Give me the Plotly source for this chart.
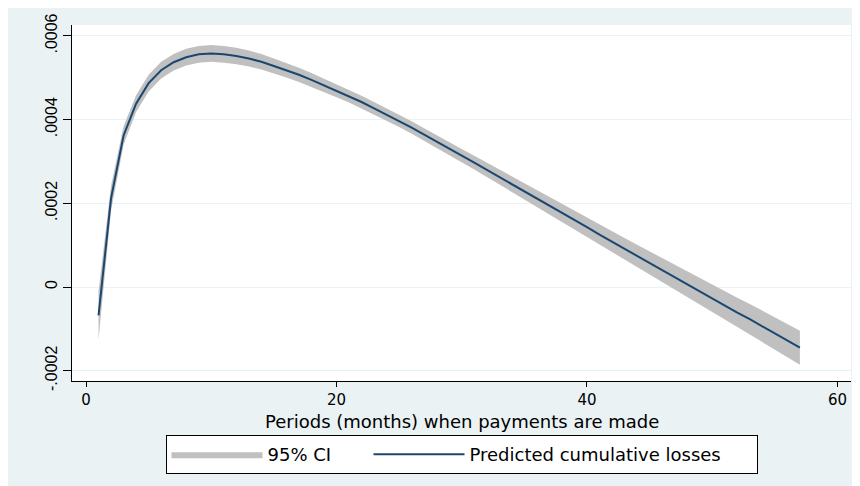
import plotly.graph_objects as go

# ---- data ----
periods = [1, 2, 3, 4, 5, 6, 7, 8, 9, 10, 11, 12, 13, 14, 15, 16, 17, 18, 19, 20,
           21, 22, 23, 24, 25, 26, 27, 28, 29, 30, 31, 32, 33, 34, 35, 36, 37, 38, 39, 40,
           41, 42, 43, 44, 45, 46, 47, 48, 49, 50, 51, 52, 53, 54, 55, 56, 57]

predicted = [-68e-6, 212e-6, 362e-6, 438e-6, 487e-6, 518e-6, 537e-6, 549e-6, 556e-6, 558e-6,
             556e-6, 552e-6, 546e-6, 538e-6, 528e-6, 518e-6, 507e-6, 495e-6, 482e-6, 469e-6,
             456e-6, 442e-6, 427e-6, 412e-6, 397e-6, 381e-6, 364e-6, 348e-6, 331e-6, 314e-6,
             297e-6, 280e-6, 263e-6, 246e-6, 229e-6, 211e-6, 194e-6, 177e-6, 160e-6, 143e-6,
             125e-6, 108e-6, 91e-6, 74e-6, 57e-6, 40e-6, 23e-6, 7e-6, -10e-6, -27e-6,
             -44e-6, -61e-6, -77e-6, -94e-6, -111e-6, -128e-6, -145e-6]

ci_lower = [-126e-6, 182e-6, 340e-6, 418e-6, 467e-6, 498e-6, 517e-6, 529e-6, 536e-6, 538e-6,
            536e-6, 532.5e-6, 527e-6, 519.5e-6, 510e-6, 500.5e-6, 490e-6, 478.5e-6, 466e-6, 453.4e-6,
            440.7e-6, 427e-6, 412e-6, 397e-6, 382e-6, 366e-6, 348.9e-6, 332.7e-6, 315.4e-6, 298e-6,
            280.5e-6, 263e-6, 245.4e-6, 227.7e-6, 210e-6, 191.3e-6, 173.5e-6, 155.7e-6, 137.9e-6, 120e-6,
            101e-6, 83e-6, 65e-6, 47e-6, 29e-6, 11e-6, -7e-6, -24e-6, -42.5e-6, -60.5e-6,
            -78.5e-6, -96.5e-6, -113.5e-6, -131.5e-6, -149.5e-6, -167.5e-6, -185.5e-6]

ci_upper = [-10e-6, 242e-6, 384e-6, 458e-6, 507e-6, 538e-6, 557e-6, 569e-6, 576e-6, 578e-6,
            576e-6, 571.5e-6, 565e-6, 556.5e-6, 546e-6, 535.5e-6, 524e-6, 511.5e-6, 498e-6, 484.6e-6,
            471.3e-6, 457e-6, 442e-6, 427e-6, 412e-6, 396e-6, 379.1e-6, 363.3e-6, 346.6e-6, 330e-6,
            313.5e-6, 297e-6, 280.6e-6, 264.3e-6, 248e-6, 230.7e-6, 214.5e-6, 198.3e-6, 182.1e-6, 166e-6,
            149e-6, 133e-6, 117e-6, 101e-6, 85e-6, 69e-6, 53e-6, 38e-6, 22.5e-6, 6.5e-6,
            -9.5e-6, -25.5e-6, -40.5e-6, -56.5e-6, -72.5e-6, -88.5e-6, -104.5e-6]

x_ticks = [0, 20, 40, 60]
x_tick_labels = ["0", "20", "40", "60"]
y_ticks = [-0.0002, 0, 0.0002, 0.0004, 0.0006]
y_tick_labels = ["-.0002", "0", ".0002", ".0004", ".0006"]

x_title = "Periods (months) when payments are made"
name_ci = "95% CI"
name_line = "Predicted cumulative losses"

# ---- style ----
BG = "#EAF2F3"
BAND = "#C0C0C0"
NAVY = "#1A476F"
FONT_H = "DejaVu Sans"
FONT_V = "Liberation Sans"

fig = go.Figure()

fig.add_trace(go.Scatter(
    x=periods + periods[::-1],
    y=ci_upper + ci_lower[::-1],
    fill="toself",
    fillcolor=BAND,
    mode="lines",
    line=dict(width=0, color=BAND),
    name=name_ci,
    legendwidth=96,
    hoverinfo="skip",
))

fig.add_trace(go.Scatter(
    x=periods,
    y=predicted,
    mode="lines",
    line=dict(color=NAVY, width=2),
    name=name_line,
    legendwidth=282,
))

fig.update_layout(
    width=852,
    height=478,
    margin=dict(l=64, r=9, t=17, b=105, pad=0),
    paper_bgcolor=BG,
    plot_bgcolor="white",
    font=dict(family=FONT_H, size=18, color="black"),
    showlegend=True,
    legend=dict(
        orientation="h",
        x=0.5, xanchor="center",
        y=-0.1517, yanchor="top",
        bgcolor="white",
        bordercolor="black",
        borderwidth=1,
        itemwidth=91,
        font=dict(family=FONT_H, size=18, color="black"),
        traceorder="normal",
    ),
    xaxis=dict(
        range=[-1.118, 61.08],
        tickmode="array",
        tickvals=x_ticks,
        ticktext=x_tick_labels,
        ticks="outside",
        ticklen=5,
        tickcolor="black",
        tickfont=dict(family=FONT_H, size=15, color="black"),
        showline=True,
        linecolor="black",
        linewidth=1,
        showgrid=False,
        zeroline=False,
        automargin=False,
    ),
    yaxis=dict(
        range=[-0.0002246, 0.000626],
        tickmode="array",
        tickvals=y_ticks,
        ticktext=y_tick_labels,
        tickangle=-90,
        ticks="outside",
        ticklen=8,
        tickcolor="black",
        tickfont=dict(family=FONT_V, size=16, color="black"),
        showline=True,
        linecolor="black",
        linewidth=1,
        showgrid=True,
        gridcolor=BG,
        gridwidth=1,
        zeroline=False,
        automargin=False,
    ),
    annotations=[dict(
        text=x_title,
        xref="paper", yref="paper",
        x=0.5, y=-0.1124,
        xanchor="center", yanchor="middle",
        showarrow=False,
        font=dict(family=FONT_H, size=18, color="black"),
    )],
)

fig.write_html("out.html")
